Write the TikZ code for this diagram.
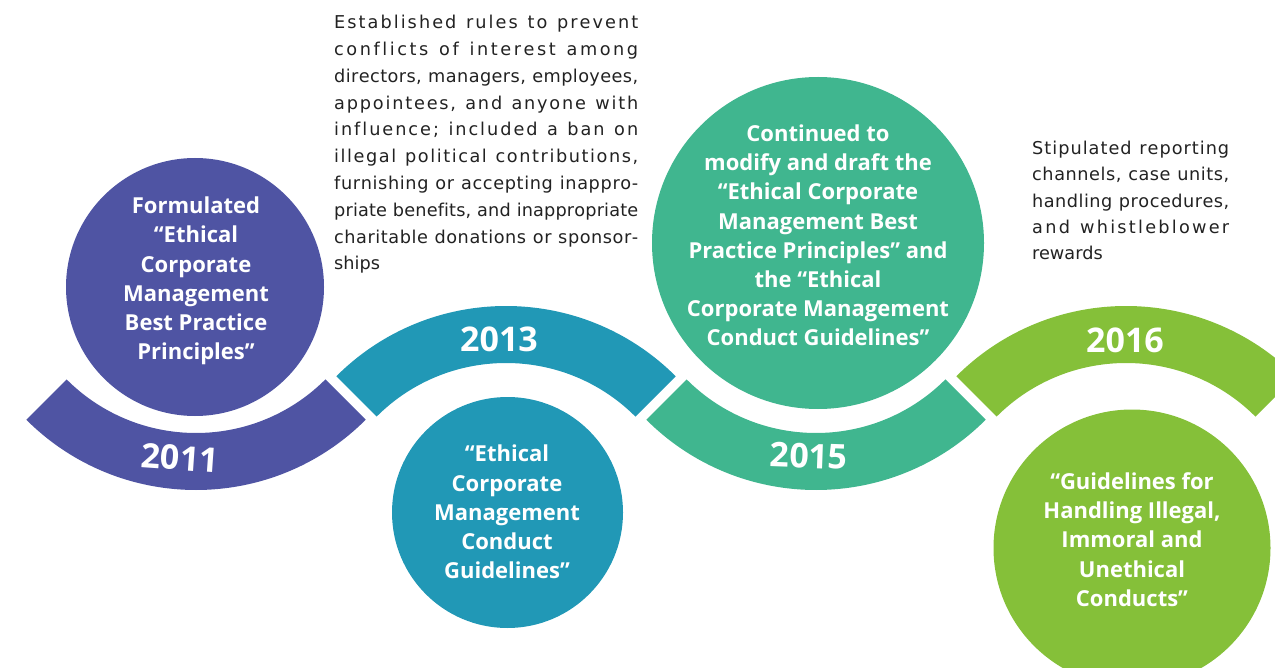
\documentclass[tikz,border=0pt]{standalone}
\usepackage{fontspec}
\setmainfont{DejaVu Sans}
\newfontfamily\circfont{Open Sans}
\setlength\parindent{0pt}
\definecolor{cpurple}{HTML}{4F54A3}
\definecolor{cteal}{HTML}{2198B6}
\definecolor{cgreen}{HTML}{40B68F}
\definecolor{clime}{HTML}{85C039}
\definecolor{textgray}{HTML}{222222}
\ExplSyntaxOn
\cs_new_protected:Npn \lsbox #1 #2
  {
    \leavevmode
    \hbox_to_wd:nn {#1}
      {
        \skip_horizontal:n { 0pt plus -1fil }
        \str_map_inline:nn {#2}
          {
            \skip_horizontal:n { 0pt plus 1fil }
            \str_if_eq:nnTF {##1} {~}
              { \skip_horizontal:n { \fontdimen2\font } }
              { ##1 }
          }
      }
  }
\ExplSyntaxOff
\newcommand\jlA[1]{\lsbox{304pt}{#1}}
\newcommand\jlB[1]{\lsbox{197pt}{#1}}
\begin{document}
\begin{tikzpicture}[x=1pt,y=1pt,
  circ/.style={circle, inner sep=0pt, draw=none},
  ctext/.style={text=white, align=center, inner sep=0pt,
    font=\circfont\bfseries\fontsize{22}{29.2}\selectfont},
  yearlbl/.style={text=white, inner sep=0pt,
    font=\circfont\bfseries\fontsize{34}{40}\selectfont},
  body/.style={text=textgray, align=left, inner sep=0pt, anchor=north west}]
\useasboundingbox (0,0) rectangle (1275,-668);
\clip (0,0) rectangle (1275,-668);
% arcs
\begin{scope}[shift={(196,-250)}]
  \fill[cpurple] (225:240) arc[start angle=225,end angle=315,radius=240]
    -- (315:183) arc[start angle=315,end angle=225,radius=183] -- cycle;
\end{scope}
\begin{scope}[shift={(506,-546)}]
  \fill[cteal] (45:240) arc[start angle=45,end angle=135,radius=240]
    -- (135:183) arc[start angle=135,end angle=45,radius=183] -- cycle;
\end{scope}
\begin{scope}[shift={(816,-250)}]
  \fill[cgreen] (225:240) arc[start angle=225,end angle=315,radius=240]
    -- (315:183) arc[start angle=315,end angle=225,radius=183] -- cycle;
\end{scope}
\begin{scope}[shift={(1126,-546)}]
  \fill[clime] (45:240) arc[start angle=45,end angle=135,radius=240]
    -- (135:183) arc[start angle=135,end angle=45,radius=183] -- cycle;
\end{scope}
% circles
\node[circ, fill=cpurple, minimum size=258] (c2011) at (195,-287) {};
\node[circ, fill=cteal, minimum size=231] (c2013) at (507.5,-512.5) {};
\node[circ, fill=cgreen, minimum size=332] (c2015) at (818,-243) {};
\node[circ, fill=clime, minimum size=277] (c2016) at (1132,-548) {};
% circle texts
\node[ctext] (t2011) at (196,-281) {Formulated\\“Ethical\\Corporate\\Management\\Best Practice\\Principles”};
\node[ctext] (t2013) at (507,-512) {“Ethical\\Corporate\\Management\\Conduct\\Guidelines”};
\node[ctext] (t2015) at (818,-235.5) {Continued to\\modify and draft the\\“Ethical Corporate\\Management Best\\Practice Principles” and\\the “Ethical\\Corporate Management\\Conduct Guidelines”};
\node[ctext] (t2016) at (1132,-539.5) {“Guidelines for\\Handling Illegal,\\Immoral and\\Unethical\\Conducts”};
% years
\node[yearlbl, rotate=-4] (y2011) at (180,-458) {2011};
\node[yearlbl] (y2013) at (499,-339) {2013};
\node[yearlbl, rotate=-2] (y2015) at (809,-456) {2015};
\node[yearlbl] (y2016) at (1125,-340) {2016};
% descriptions
\node[body, text width=304, font=\fontsize{17.7}{26.8}\selectfont] (d2013) at (334,-15) {%
\jlA{Established rules to prevent}\\
\jlA{conflicts of interest among}\\
\jlA{directors, managers, employees,}\\
\jlA{appointees, and anyone with}\\
\jlA{influence; included a ban on}\\
\jlA{illegal political contributions,}\\
\jlA{furnishing or accepting inappro-}\\
\jlA{priate benefits, and inappropriate}\\
\jlA{charitable donations or sponsor-}\\
ships};
\node[body, text width=197, font=\fontsize{17.7}{26.3}\selectfont] (d2016) at (1032,-141) {%
\jlB{Stipulated reporting}\\
\jlB{channels, case units,}\\
\jlB{handling procedures,}\\
\jlB{and whistleblower}\\
rewards};
\end{tikzpicture}
\end{document}
